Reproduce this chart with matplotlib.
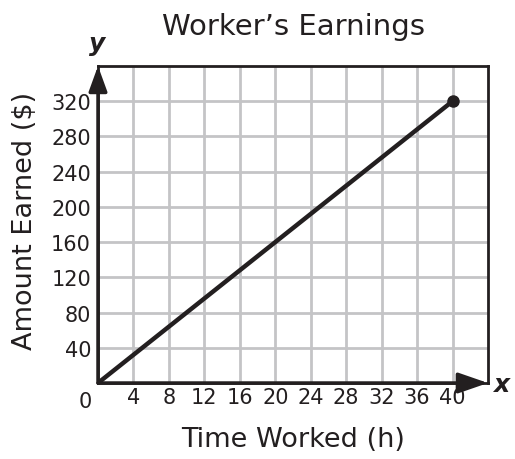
import matplotlib
matplotlib.use("Agg")
import matplotlib.pyplot as plt

hours = [0, 40]
earnings = [0, 320]
x_ticks = [4, 8, 12, 16, 20, 24, 28, 32, 36, 40]
y_ticks = [40, 80, 120, 160, 200, 240, 280, 320]
x_grid = [4, 8, 12, 16, 20, 24, 28, 32, 36, 40]
y_grid = [40, 80, 120, 160, 200, 240, 280, 320]

ink = "#231f20"
grid_c = "#c4c4c6"

fig = plt.figure(figsize=(5.15, 4.6), dpi=100)
ax = fig.add_axes([98/515, 1-384/460, 390/515, 317/460])
ax.set_xlim(0, 44)
ax.set_ylim(0, 360)

for gx in x_grid:
    ax.axvline(gx, color=grid_c, lw=2, zorder=1)
for gy in y_grid:
    ax.axhline(gy, color=grid_c, lw=2, zorder=1)

ax.plot(hours, earnings, color=ink, lw=3.2, zorder=3, solid_capstyle="round")
ax.plot(hours[-1:], earnings[-1:], "o", color=ink, ms=8, zorder=4)

for s in ax.spines.values():
    s.set_color(ink)
    s.set_linewidth(2)

ax.set_xticks(x_ticks)
ax.set_yticks(y_ticks)
ax.tick_params(length=0, labelsize=15, colors=ink)
ax.tick_params(axis="x", pad=3)
ax.tick_params(axis="y", pad=5)
ax.annotate("0", xy=(0, 0), xytext=(-9, -6), textcoords="offset points",
            fontsize=15, color=ink, ha="center", va="top")

# arrows
ax.annotate("", xy=(44, 0), xytext=(0, 0),
            arrowprops=dict(arrowstyle="-|>,head_length=1.3,head_width=0.45",
                            color=ink, lw=2.5, shrinkA=0, shrinkB=0,
                            mutation_scale=14), annotation_clip=False, zorder=5)
ax.annotate("", xy=(0, 360), xytext=(0, 0),
            arrowprops=dict(arrowstyle="-|>,head_length=1.1,head_width=0.4",
                            color=ink, lw=2.5, shrinkA=0, shrinkB=0,
                            mutation_scale=14), annotation_clip=False, zorder=5)

fig.text(501/515, 1-385/460, "x", fontsize=18, fontweight="bold",
         fontstyle="italic", color=ink, ha="center", va="center")
fig.text(97/515, 1-44/460, "y", fontsize=18, fontweight="bold",
         fontstyle="italic", color=ink, ha="center", va="center")

fig.text(294/515, 1-27/460, "Worker\u2019s Earnings", fontsize=21, color=ink,
         ha="center", va="center")
fig.text(293/515, 1-440/460, "Time Worked (h)", fontsize=19.5, color=ink,
         ha="center", va="center")
fig.text(25/515, 1-221/460, "Amount Earned ($)", fontsize=19.5, color=ink,
         ha="center", va="center", rotation=90)

fig.savefig("out.png", dpi=100)
